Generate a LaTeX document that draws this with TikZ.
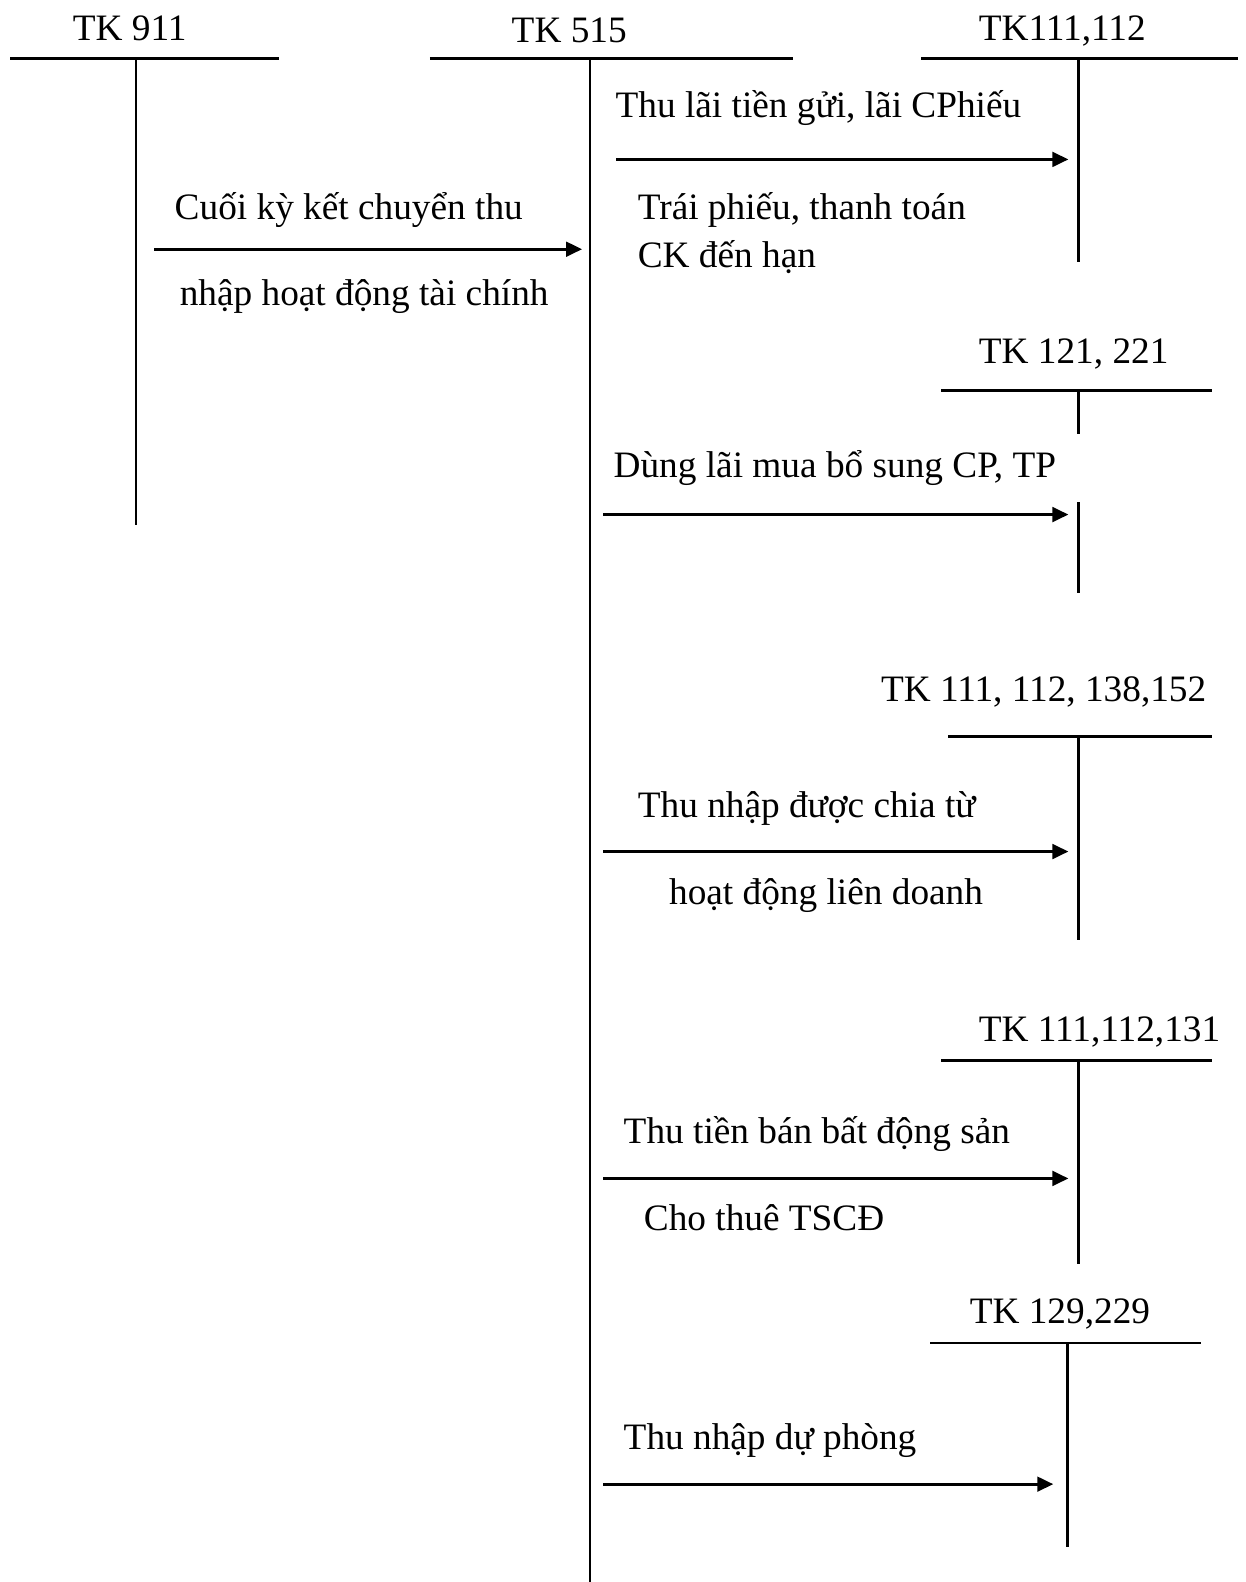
\documentclass[tikz,border=0pt]{standalone}
\usepackage{fontspec}
\setmainfont{Liberation Serif}
\usetikzlibrary{arrows.meta}
\begin{document}
\begin{tikzpicture}[x=1.009pt,y=-1.009pt,
  lbl/.style={anchor=base west,inner sep=0pt,font=\fontsize{37.3}{44}\selectfont},
  hbar/.style={line width=2.3pt},
  vbar/.style={line width=2.2pt},
  flow/.style={line width=3.1pt,-{Triangle[length=16pt,width=14.5pt]}}]
\useasboundingbox[fill=white] (0,0) rectangle (1234,1568);

% ---- T-account TK 911
\node[lbl] (t911) at (72,40) {TK 911};
\coordinate (a911L) at (10,58);  \coordinate (a911R) at (277,58);
\coordinate (a911T) at (135,58); \coordinate (a911B) at (135,520);
\draw[hbar] (a911L) -- (a911R);
\draw[vbar] (a911T) -- (a911B);

% ---- T-account TK 515
\node[lbl] (t515) at (507,42) {TK 515};
\coordinate (a515L) at (426,58); \coordinate (a515R) at (786,58);
\coordinate (a515T) at (585,58); \coordinate (a515B) at (585,1568);
\draw[hbar] (a515L) -- (a515R);
\draw[vbar] (a515T) -- (a515B);

% ---- T-account TK111,112
\node[lbl] (t111) at (970,40) {TK111,112};
\coordinate (a111L) at (913,58);  \coordinate (a111R) at (1227,58);
\coordinate (a111T) at (1069,58); \coordinate (a111B) at (1069,260);
\draw[hbar] (a111L) -- (a111R);
\draw[vbar] (a111T) -- (a111B);

% ---- T-account TK 121, 221 (broken stem)
\node[lbl] (t121) at (970,360) {TK 121, 221};
\coordinate (a121L) at (933,387);  \coordinate (a121R) at (1201,387);
\coordinate (a121T) at (1069,387); \coordinate (a121M) at (1069,430);
\coordinate (a121N) at (1069,498); \coordinate (a121B) at (1069,588);
\draw[hbar] (a121L) -- (a121R);
\draw[vbar] (a121T) -- (a121M);
\draw[vbar] (a121N) -- (a121B);

% ---- T-account TK 111, 112, 138,152
\node[lbl] (t138) at (873,695) {TK 111, 112, 138,152};
\coordinate (a138L) at (940,730);  \coordinate (a138R) at (1201,730);
\coordinate (a138T) at (1069,730); \coordinate (a138B) at (1069,932);
\draw[hbar] (a138L) -- (a138R);
\draw[vbar] (a138T) -- (a138B);

% ---- T-account TK 111,112,131
\node[lbl] (t131) at (970,1032) {TK 111,112,131};
\coordinate (a131L) at (933,1051);  \coordinate (a131R) at (1201,1051);
\coordinate (a131T) at (1069,1051); \coordinate (a131B) at (1069,1253);
\draw[hbar] (a131L) -- (a131R);
\draw[vbar] (a131T) -- (a131B);

% ---- T-account TK 129,229
\node[lbl] (t129) at (961,1312) {TK 129,229};
\coordinate (a129L) at (922,1331);  \coordinate (a129R) at (1190,1331);
\coordinate (a129T) at (1058,1331); \coordinate (a129B) at (1058,1533);
\draw[hbar] (a129L) -- (a129R);
\draw[vbar] (a129T) -- (a129B);

% ---- entries
\coordinate (f0s) at (153,247); \coordinate (f0e) at (577,247);
\draw[flow] (f0s) -- (f0e);
\node[lbl] (l0a) at (173,218) {Cuối kỳ kết chuyển thu};
\node[lbl] (l0b) at (178,303) {nhập hoạt động tài chính};

\coordinate (f1s) at (611,158); \coordinate (f1e) at (1059,158);
\draw[flow] (f1s) -- (f1e);
\node[lbl] (l1a) at (610,116) {Thu lãi tiền gửi, lãi CPhiếu};
\node[lbl] (l1b) at (632,218) {Trái phiếu, thanh toán};
\node[lbl] (l1c) at (632,265) {CK đến hạn};

\coordinate (f2s) at (598,510); \coordinate (f2e) at (1059,510);
\draw[flow] (f2s) -- (f2e);
\node[lbl] (l2a) at (608,473) {Dùng lãi mua bổ sung CP, TP};

\coordinate (f3s) at (598,844); \coordinate (f3e) at (1059,844);
\draw[flow] (f3s) -- (f3e);
\node[lbl] (l3a) at (632,810) {Thu nhập được chia từ};
\node[lbl] (l3b) at (663,896) {hoạt động liên doanh};

\coordinate (f4s) at (598,1168); \coordinate (f4e) at (1059,1168);
\draw[flow] (f4s) -- (f4e);
\node[lbl] (l4a) at (618,1133) {Thu tiền bán bất động sản};
\node[lbl] (l4b) at (638,1220) {Cho thuê TSCĐ};

\coordinate (f5s) at (598,1471); \coordinate (f5e) at (1044,1471);
\draw[flow] (f5s) -- (f5e);
\node[lbl] (l5a) at (618,1437) {Thu nhập dự phòng};
\end{tikzpicture}
\end{document}
